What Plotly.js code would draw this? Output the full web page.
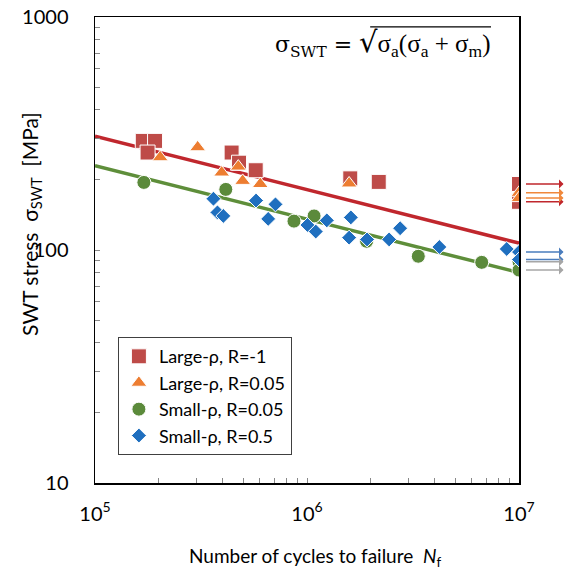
<!DOCTYPE html>
<html>
<head>
<meta charset="utf-8">
<script src="https://cdn.plot.ly/plotly-3.0.1.min.js"></script>
<style>html,body{margin:0;padding:0;background:#fff;}#chart{width:571px;height:569px;}</style>
</head>
<body>
<div id="chart"></div>
<script>
// ---- data ----
const largeR1_N = [1.68e5, 1.92e5, 1.77e5, 4.41e5, 4.78e5, 5.73e5, 1.60e6, 2.18e6, 1e7, 1e7];
const largeR1_S = [294, 294, 262, 262, 237, 220, 203, 196, 192, 161];

const largeR005_N = [2.03e5, 3.05e5, 3.96e5, 4.74e5, 4.97e5, 6.02e5, 1.58e6, 1e7, 1e7];
const largeR005_S = [250, 276, 215, 228, 198, 192, 193, 176, 167];

const smallR005_N = [1.70e5, 4.14e5, 8.68e5, 1.08e6, 1.91e6, 3.35e6, 6.67e6, 1e7, 1e7];
const smallR005_S = [195, 182, 133, 140, 109, 94, 88.5, 89, 82];

const smallR05_N = [3.62e5, 3.78e5, 4.03e5, 5.75e5, 7.10e5, 6.56e5, 1.005e6, 1.10e6, 1.24e6, 1.61e6, 1.58e6, 1.92e6, 2.44e6, 2.75e6, 4.21e6, 8.75e6, 1e7, 1e7];
const smallR05_S = [166, 145, 140, 163, 157, 136, 128, 120, 134, 138, 113, 111, 111, 124, 103, 101, 98, 91];

// fitted S-N lines (endpoints)
const fitLarge_N = [1e5, 1e7];
const fitLarge_S = [308, 107];
const fitSmall_N = [1e5, 1e7];
const fitSmall_S = [230, 80];

const runoutN = 1e7;
const xTickVals = [1e5, 1e6, 1e7];
const xTickText = ['10<sup>5</sup>', '10<sup>6</sup>', '10<sup>7</sup>'];
const yTickVals = [10, 100, 1000];
const yTickText = ['10', '100', '1000'];

const names = ['Large-ρ, R=-1', 'Large-ρ, R=0.05', 'Small-ρ, R=0.05', 'Small-ρ, R=0.5'];
const NB = '\u00A0';
const xTitle = 'Number of cycles to failure' + NB + NB + '<i>N</i><sub>f</sub>';
const yTitle = 'SWT stress' + NB + NB + 'σ<sub>SWT</sub>' + NB + NB + '[MPa]';
const formula = 'σ<sub>SWT</sub> = <span style="font-size:29px">√</span>' +
  '<span style="font-family:\'Liberation Serif\',serif;font-size:25px">σ<sub>a</sub>(σ<sub>a</sub> + σ<sub>m</sub>)</span>';

// ---- styling ----
const FONT = 'Lato, "Open Sans", sans-serif';
const cRed = '#BE4B48', cOrange = '#ED7D31', cGreen = '#5B8A3B', cBlue = '#1F6FBF';

const traces = [
  {x: fitLarge_N, y: fitLarge_S, mode: 'lines', line: {color: '#C0272D', width: 3.5}, showlegend: false, hoverinfo: 'skip'},
  {x: fitSmall_N, y: fitSmall_S, mode: 'lines', line: {color: '#5E8E3A', width: 3.5}, showlegend: false, hoverinfo: 'skip'},
  {x: largeR1_N, y: largeR1_S, mode: 'markers', name: names[0],
   marker: {symbol: 'square', size: 15, color: cRed, line: {color: '#ffffff', width: 1}}},
  {x: largeR005_N, y: largeR005_S, mode: 'markers', name: names[1],
   marker: {symbol: 'triangle-up', size: 14, color: cOrange, line: {color: '#ffffff', width: 1}}},
  {x: smallR005_N, y: smallR005_S, mode: 'markers', name: names[2],
   marker: {symbol: 'circle', size: 14, color: cGreen, line: {color: '#ffffff', width: 1}}},
  {x: smallR05_N, y: smallR05_S, mode: 'markers', name: names[3],
   marker: {symbol: 'diamond', size: 11.5, color: cBlue, line: {color: '#ffffff', width: 1}}}
];

// run-out arrows from the points at N = 1e7
function arrows(N, S, color) {
  const out = [];
  N.forEach((n, i) => {
    if (n >= runoutN) {
      out.push({x: Math.log10(n), y: Math.log10(S[i]), xref: 'x', yref: 'y', text: '',
        showarrow: true, arrowside: 'start', ax: 46, ay: 0, standoff: 7,
        arrowhead: 2, arrowsize: 1.75, arrowwidth: 1.5, arrowcolor: color});
    }
  });
  return out;
}
const annotations = [].concat(
  arrows(largeR1_N, largeR1_S, '#C0272D'),
  arrows(largeR005_N, largeR005_S, '#F0883C'),
  arrows(smallR05_N, smallR05_S, '#4A7DBD'),
  arrows(smallR005_N, smallR005_S, '#A6A6A6'),
  [{xref: 'paper', yref: 'paper', x: 0.677, y: 0.944, xanchor: 'center', yanchor: 'middle', showarrow: false,
    text: formula, font: {family: '"DejaVu Serif", serif', size: 22, color: '#000'}},
   {xref: 'paper', yref: 'paper', x: 0.521, y: -0.159, xanchor: 'center', yanchor: 'middle', showarrow: false,
    text: xTitle, font: {family: FONT, size: 19, color: '#000'}},
   {xref: 'paper', yref: 'paper', x: -0.151, y: 0.556, xanchor: 'center', yanchor: 'middle', showarrow: false,
    textangle: -90, text: yTitle, font: {family: FONT, size: 21, color: '#000'}}]
);

const layout = {
  width: 571, height: 569,
  margin: {l: 95, r: 52, t: 17, b: 86},
  paper_bgcolor: '#ffffff', plot_bgcolor: '#ffffff',
  font: {family: FONT, color: '#000'},
  showlegend: true,
  legend: {x: 0.054, y: 0.313, xanchor: 'left', yanchor: 'top', bgcolor: '#ffffff',
    bordercolor: '#404040', borderwidth: 1, font: {family: FONT, size: 18, color: '#000'},
    traceorder: 'normal'},
  xaxis: {type: 'log', range: [5, 7], tickvals: xTickVals, ticktext: xTickText,
    ticks: 'inside', ticklen: 5, tickcolor: '#888', showline: true, linecolor: '#000', linewidth: 1.5, mirror: true,
    showgrid: false, zeroline: false, tickfont: {size: 20, family: FONT}, ticklabelstandoff: 12,
    minor: {ticks: 'inside', ticklen: 5, tickcolor: '#888', dtick: 'D1', showgrid: false}},
  yaxis: {type: 'log', range: [1, 3], tickvals: yTickVals, ticktext: yTickText,
    ticks: 'inside', ticklen: 5, tickcolor: '#888', showline: true, linecolor: '#000', linewidth: 1.5, mirror: true,
    showgrid: false, zeroline: false, tickfont: {size: 20, family: FONT}, ticklabelstandoff: 21,
    minor: {ticks: 'inside', ticklen: 5, tickcolor: '#888', dtick: 'D1', showgrid: false}},
  shapes: [{type: 'line', xref: 'paper', yref: 'paper', x0: 0.649, x1: 0.934, y0: 0.979, y1: 0.979,
    line: {color: '#000', width: 1.2}}],
  annotations: annotations
};

Plotly.newPlot('chart', traces, layout, {staticPlot: true, displayModeBar: false});
</script>
</body>
</html>
